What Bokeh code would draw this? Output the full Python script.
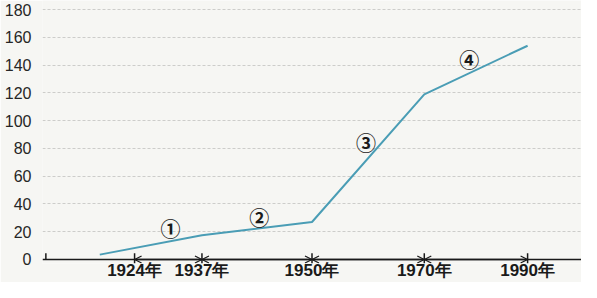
from bokeh.plotting import figure
from bokeh.models import (ColumnDataSource, Range1d, FixedTicker, Arrow, OpenHead)
from bokeh.embed import file_html
from bokeh.resources import INLINE
from bokeh.core.properties import value

# ---- data ----
year_labels = ["1924年", "1937年", "1950年", "1970年", "1990年"]
year_pos = [0.79, 1.39, 2.37, 3.37, 4.29]          # schematic (uneven) axis positions
line_x = [0.48, 1.39, 2.37, 3.37, 4.29]
line_y = [3.5, 17.5, 27, 119, 154]
stage_labels = ["①", "②", "③", "④"]
stage_x = [1.11, 1.90, 2.85, 3.77]
stage_y = [22, 30, 84, 144]
y_ticks = [0, 20, 40, 60, 80, 100, 120, 140, 160, 180]

BG = "#f6f6f3"
LINE = "#4a9db5"
INK = "#1a1a1a"

p = figure(width=581, height=282, output_backend="svg", toolbar_location=None,
           x_range=Range1d(-0.03, 4.77), y_range=Range1d(-2.9, 186.6),
           background_fill_color=BG, border_fill_color=BG,
           min_border_left=42, min_border_right=0, min_border_top=0,
           min_border_bottom=0)
p.outline_line_color = None

# y axis
p.yaxis.ticker = FixedTicker(ticks=y_ticks)
p.yaxis.axis_line_color = None
p.yaxis.major_tick_line_color = None
p.yaxis.minor_tick_line_color = None
p.yaxis.major_label_text_font = "Liberation Sans"
p.yaxis.major_label_text_font_size = "16px"
p.yaxis.major_label_text_color = "#262626"
p.yaxis.major_label_standoff = 5

# x axis: labels only (line, ticks and arrows drawn at zero)
p.xaxis.ticker = FixedTicker(ticks=year_pos)
p.xaxis.major_label_overrides = {pos: lab for pos, lab in zip(year_pos, year_labels)}
p.xaxis.axis_line_color = None
p.xaxis.major_tick_line_color = None
p.xaxis.minor_tick_line_color = None
p.xaxis.major_tick_out = 0
p.xaxis.major_tick_in = 0
p.xaxis.major_label_text_font = "Liberation Sans"
p.xaxis.major_label_text_font_style = "bold"
p.xaxis.major_label_text_font_size = "17px"
p.xaxis.major_label_text_color = INK
p.xaxis.major_label_standoff = -3

# grid
p.xgrid.grid_line_color = None
p.ygrid.ticker = FixedTicker(ticks=y_ticks[1:])
p.ygrid.grid_line_color = "#cdcdca"
p.ygrid.grid_line_dash = "3 2"
p.ygrid.grid_line_width = 1

# base line (zero line) and tick marks
p.hspan(y=[0], line_color=INK, line_width=1.5)
p.segment(x0=[0.0] + year_pos, x1=[0.0] + year_pos,
          y0=[0] * 6, y1=[4.5] * 6, line_color=INK, line_width=1.5)
p.segment(x0=year_pos, x1=year_pos,
          y0=[0] * 5, y1=[-2.9] * 5, line_color=INK, line_width=1.5)

# interval arrows along the x axis
arr_src = ColumnDataSource(dict(x0=year_pos[:-1], x1=year_pos[1:],
                                y0=[0] * (len(year_pos) - 1), y1=[0] * (len(year_pos) - 1)))
p.add_layout(Arrow(start=OpenHead(size=7, line_color=INK, line_width=1.3),
                   end=OpenHead(size=7, line_color=INK, line_width=1.3),
                   x_start="x0", y_start="y0", x_end="x1", y_end="y1",
                   line_color=INK, line_width=1.3, source=arr_src, level="overlay"))

# main line
p.line(line_x, line_y, line_color=LINE, line_width=2)

# stage markers
st_src = ColumnDataSource(dict(x=stage_x, y=stage_y, t=stage_labels))
p.text(x="x", y="y", text="t", source=st_src, text_align="center",
       text_baseline="middle", text_font=value("Noto Sans CJK SC"),
       text_font_style="bold", text_font_size="20px", text_color=INK)

open("out.html", "w").write(file_html(p, INLINE))
